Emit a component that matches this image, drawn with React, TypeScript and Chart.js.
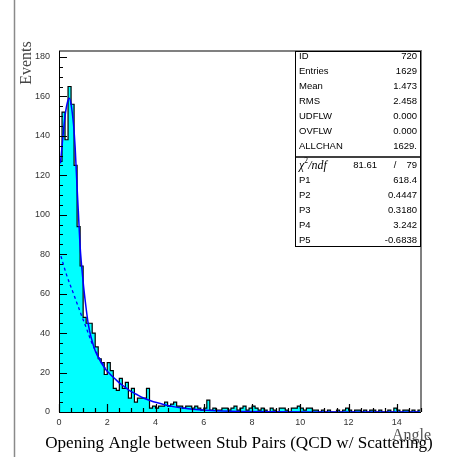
import React, { useEffect, useRef } from "react";
import { Chart, registerables } from "chart.js";

Chart.register(...registerables);

// ---- data ----
const binLow = 0;
const binWidth = 0.125;
const counts = [
  127, 152, 138, 165, 156, 125, 94, 74, 48, 45, 45, 40,
  33, 27, 25, 19, 25, 21, 12, 11, 17, 12, 15, 7, 12, 5, 7, 7, 7, 12, 2, 3,
  2, 3, 3, 5, 3, 4, 5, 3, 3, 2, 3, 3, 2, 3, 2, 1, 2, 6,
  1, 2, 1, 1, 2, 2, 1, 2, 3, 1, 2, 3, 1, 2, 3, 2, 1, 2, 1,
  0, 2, 1, 0, 2, 2, 1, 0, 2, 2, 3, 2, 1, 2, 2, 1, 1,
  0, 1, 0, 1, 0, 0, 1, 0, 1, 2, 1, 0, 1, 1, 0, 1, 0, 1, 1, 0, 1, 0, 0, 1, 0, 2, 1, 0, 1, 1, 0, 1, 0, 1,
];

const fitX = [0.06, 0.15, 0.25, 0.35, 0.43, 0.5, 0.6, 0.67, 0.74, 0.8, 0.875, 1.0, 1.1, 1.22, 1.35, 1.5, 1.7, 1.92, 2.1, 2.33, 2.5, 2.75, 3.0, 3.2, 3.4, 3.6, 3.8, 4.0, 4.4, 4.8, 5.2, 5.8, 6.5, 7.5, 9, 11, 13, 15];
const fitY = [126, 138, 150, 157, 159, 156, 146, 134, 116, 102, 84, 66, 55, 44, 37, 31, 26, 21.8, 19.4, 16.7, 14.8, 12.5, 10.3, 9.0, 7.7, 6.6, 5.7, 4.9, 3.6, 2.6, 1.9, 1.1, 0.6, 0.3, 0.12, 0.05, 0.02, 0.01];

const bkgX = [0.08, 0.3, 0.6, 0.9, 1.15, 1.36, 1.6, 1.92];
const bkgY = [79, 70, 60, 50, 42, 35, 29, 22.2];

const xMin = 0;
const xMax = 15;
const yMin = 0;
const yMax = 183;
const xMajorStep = 2;
const xMinorStep = 0.5;
const yMajorStep = 20;
const yMinorStep = 5;

const statNames = ["ID", "Entries", "Mean", "RMS", "UDFLW", "OVFLW", "ALLCHAN"];
const statValues = ["720", "1629", "1.473", "2.458", "0.000", "0.000", "1629."];
const chi2Value = "81.61";
const ndfValue = "79";
const parNames = ["P1", "P2", "P3", "P4", "P5"];
const parValues = ["618.4", "0.4447", "0.3180", "3.242", "-0.6838"];

const yTitle = "Events";
const xTitle = "Angle";
const mainTitle = "Opening Angle between Stub Pairs (QCD w/ Scattering)";

const SERIF = "'Liberation Serif', 'DejaVu Serif', serif";
const SANS = "'Liberation Sans', Arial, sans-serif";

const pawPlugin = {
  id: "pawFrame",
  afterDatasetsDraw(chart: any) {
    const { ctx, chartArea: a, scales } = chart;
    const xs = scales.x;
    const ys = scales.y;
    ctx.save();
    ctx.strokeStyle = "#808080";
    ctx.lineWidth = 2;
    ctx.beginPath();
    ctx.moveTo(a.left, a.top);
    ctx.lineTo(a.right, a.top);
    ctx.lineTo(a.right, a.bottom);
    ctx.stroke();
    ctx.strokeStyle = "#000";
    ctx.lineWidth = 1;
    ctx.beginPath();
    ctx.moveTo(a.left + 0.5, a.top);
    ctx.lineTo(a.left + 0.5, a.bottom + 0.5);
    ctx.lineTo(a.right, a.bottom + 0.5);
    ctx.stroke();
    ctx.lineWidth = 1.2;
    ctx.beginPath();
    for (let v = yMin; v <= 180 + 1e-6; v += yMinorStep) {
      const py = Math.round(ys.getPixelForValue(v)) + 0.5;
      const len = Math.abs(v % yMajorStep) < 1e-6 ? 8 : 4;
      ctx.moveTo(a.left, py);
      ctx.lineTo(a.left + len, py);
    }
    for (let v = xMin; v <= xMax + 1e-6; v += xMinorStep) {
      const px = Math.round(xs.getPixelForValue(v)) + 0.5;
      const len = Math.abs(v % xMajorStep) < 1e-6 ? 8 : 4;
      ctx.moveTo(px, a.bottom);
      ctx.lineTo(px, a.bottom - len);
    }
    ctx.stroke();
    ctx.restore();
  },
  afterDraw(chart: any) {
    const { ctx, chartArea: a } = chart;
    ctx.save();
    ctx.strokeStyle = "#8a8a8a";
    ctx.lineWidth = 1.5;
    ctx.beginPath();
    ctx.moveTo(14.5, 0);
    ctx.lineTo(14.5, 457);
    ctx.stroke();

    // statistics box
    const bx0 = 295;
    const bx1 = a.right;
    const by0 = a.top;
    const rowH = 15;
    const sepY = by0 + 7 * rowH + 1;
    const by1 = sepY + 6 * rowH;
    ctx.fillStyle = "#fff";
    ctx.fillRect(bx0, by0, bx1 - bx0, by1 - by0);
    ctx.strokeStyle = "#000";
    ctx.lineWidth = 1;
    ctx.strokeRect(bx0 + 0.5, by0 + 0.5, bx1 - bx0 - 1, by1 - by0 - 1);
    ctx.beginPath();
    ctx.lineWidth = 1.5;
    ctx.moveTo(bx0, sepY);
    ctx.lineTo(bx1, sepY);
    ctx.stroke();
    ctx.fillStyle = "#000";
    ctx.font = `9.5px ${SANS}`;
    ctx.textBaseline = "middle";
    for (let i = 0; i < statNames.length; i++) {
      const cy = by0 + 5.5 + i * rowH;
      ctx.textAlign = "left";
      ctx.fillText(statNames[i], bx0 + 4, cy);
      ctx.textAlign = "right";
      ctx.fillText(statValues[i], bx1 - 4, cy);
    }
    const c0 = sepY + 8.5;
    ctx.textAlign = "left";
    ctx.font = `italic 12px ${SERIF}`;
    ctx.fillText("χ", bx0 + 4, c0);
    const wChi = ctx.measureText("χ").width;
    ctx.font = `7.5px ${SERIF}`;
    ctx.fillText("2", bx0 + 4 + wChi, c0 - 4);
    ctx.font = `italic 12px ${SERIF}`;
    ctx.fillText("/ndf", bx0 + 4 + wChi + 4, c0);
    ctx.font = `9.5px ${SANS}`;
    ctx.textAlign = "right";
    ctx.fillText(chi2Value, bx1 - 44, c0);
    ctx.textAlign = "center";
    ctx.fillText("/", bx1 - 26, c0);
    ctx.textAlign = "right";
    ctx.fillText(ndfValue, bx1 - 4, c0);
    for (let i = 0; i < parNames.length; i++) {
      const cy = c0 + (i + 1) * rowH;
      ctx.textAlign = "left";
      ctx.fillText(parNames[i], bx0 + 4, cy);
      ctx.textAlign = "right";
      ctx.fillText(parValues[i], bx1 - 4, cy);
    }

    // y title
    ctx.save();
    ctx.translate(31, 63);
    ctx.rotate(-Math.PI / 2);
    ctx.fillStyle = "#444";
    ctx.font = `16px ${SERIF}`;
    ctx.textAlign = "center";
    ctx.textBaseline = "alphabetic";
    ctx.fillText(yTitle, 0, 0);
    ctx.restore();

    // x title
    ctx.fillStyle = "#555";
    ctx.font = `16px ${SERIF}`;
    ctx.textAlign = "right";
    ctx.textBaseline = "alphabetic";
    ctx.fillText(xTitle, 431, 440);

    // main title
    ctx.fillStyle = "#000";
    ctx.font = `16px ${SERIF}`;
    const w16 = ctx.measureText(mainTitle).width;
    const fs = (16 * 388) / w16;
    ctx.font = `${fs.toFixed(2)}px ${SERIF}`;
    ctx.textAlign = "center";
    ctx.fillText(mainTitle, 239, 448);
    ctx.restore();
  },
};

export default function App() {
  const ref = useRef<HTMLCanvasElement | null>(null);
  useEffect(() => {
    document.body.style.margin = "0";
    const canvas = ref.current;
    if (!canvas) return;
    const histData: { x: number; y: number }[] = [{ x: binLow, y: 0 }];
    counts.forEach((c, i) => histData.push({ x: binLow + i * binWidth, y: c }));
    histData.push({ x: binLow + counts.length * binWidth, y: 0 });
    const fitData = fitX.map((x, i) => ({ x, y: fitY[i] }));
    const bkgData = bkgX.map((x, i) => ({ x, y: bkgY[i] }));

    const chart = new Chart(canvas, {
      type: "line",
      data: {
        datasets: [
          {
            data: fitData,
            borderColor: "#0000ff",
            borderWidth: 1.5,
            pointRadius: 0,
            fill: false,
            cubicInterpolationMode: "monotone",
          },
          {
            data: bkgData,
            borderColor: "#0000ff",
            borderWidth: 1.3,
            borderDash: [3, 3],
            pointRadius: 0,
            fill: false,
            cubicInterpolationMode: "monotone",
          },
          {
            data: histData,
            stepped: "before",
            borderColor: "#000",
            borderWidth: 1.2,
            backgroundColor: "#00ffff",
            fill: "origin",
            pointRadius: 0,
          },
        ] as any,
      },
      options: {
        responsive: false,
        animation: false,
        devicePixelRatio: 1,
        layout: { padding: { left: 0, top: 51, right: 35, bottom: 0 } },
        plugins: { legend: { display: false }, tooltip: { enabled: false } },
        scales: {
          x: {
            type: "linear",
            min: xMin,
            max: xMax,
            grid: { display: false, drawTicks: false },
            border: { display: false },
            ticks: {
              stepSize: xMajorStep,
              includeBounds: false,
              padding: 5,
              color: "#333",
              font: { family: SANS, size: 9 },
              maxRotation: 0,
              autoSkip: false,
            },
            afterFit: (s: any) => {
              s.height = 45;
            },
          },
          y: {
            type: "linear",
            min: yMin,
            max: yMax,
            grid: { display: false, drawTicks: false },
            border: { display: false },
            ticks: {
              stepSize: yMajorStep,
              includeBounds: false,
              padding: 9,
              color: "#333",
              font: { family: SANS, size: 9 },
              autoSkip: false,
            },
            afterFit: (s: any) => {
              s.width = 59;
            },
          },
        },
      } as any,
      plugins: [pawPlugin],
    });
    return () => chart.destroy();
  }, []);
  return (
    <div style={{ position: "absolute", left: 0, top: 0, width: 456, height: 457, background: "#fff" }}>
      <canvas ref={ref} width={456} height={457} style={{ display: "block" }} />
    </div>
  );
}
